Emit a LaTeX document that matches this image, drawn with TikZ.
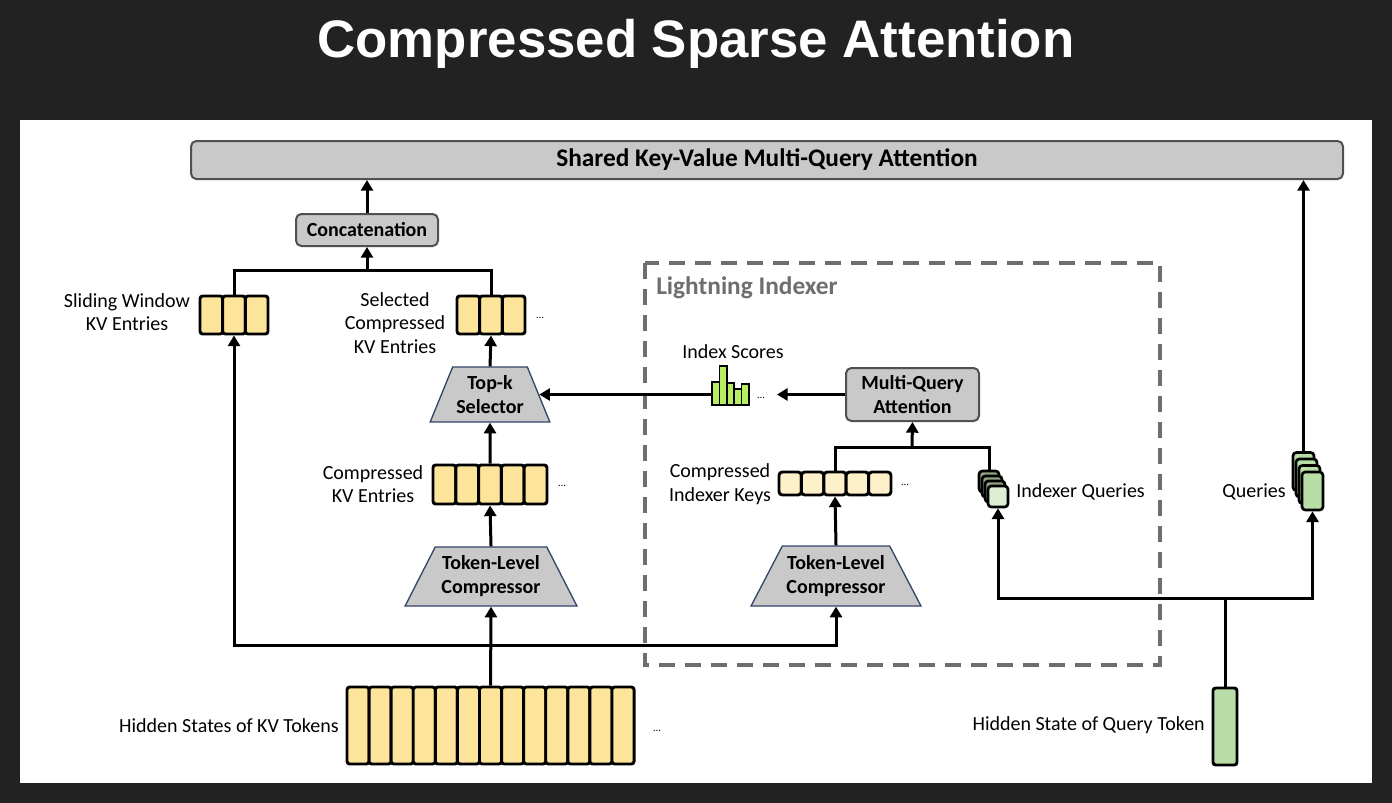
\documentclass[tikz,border=0pt]{standalone}
\usepackage{fontspec}
\setmainfont{Carlito}
\newfontfamily\titlefont{Liberation Sans}
\usetikzlibrary{shapes.geometric,arrows.meta}

\definecolor{bgdark}{HTML}{222222}
\definecolor{boxgray}{HTML}{C9C9C9}
\definecolor{boxedge}{HTML}{505050}
\definecolor{trapedge}{HTML}{34466A}
\definecolor{kvyellow}{HTML}{FDE49B}
\definecolor{keylight}{HTML}{FEF1C9}
\definecolor{qgreen}{HTML}{B9DDA6}
\definecolor{iqgreen}{HTML}{DCEFD3}
\definecolor{iqdark}{HTML}{8FA283}
\definecolor{scoregreen}{HTML}{B8EE62}
\definecolor{dashgray}{HTML}{6E6E6E}

\begin{document}
\begin{tikzpicture}[x=0.75pt, y=-0.75pt, >={Triangle[length=8pt,width=9pt]},
    lbl/.style={font=\fontsize{15}{17.6}\selectfont, align=center, inner sep=0},
    graybox/.style={draw=boxedge, fill=boxgray, line width=1.5pt, rounded corners=4pt,
      font=\bfseries\fontsize{15}{17.6}\selectfont, align=center, inner sep=0},
    trap/.style={trapezium, trapezium stretches=true, draw=trapedge, fill=boxgray, line width=1pt,
      font=\bfseries\fontsize{15}{18}\selectfont, align=center, inner sep=0},
    cell/.style={draw=black, line width=2.2pt, rounded corners=2pt, fill=kvyellow, inner sep=0},
    qcell/.style={draw=black, line width=2pt, rounded corners=2.5pt, inner sep=0},
    wire/.style={line width=2.25pt},
    dots/.style={font=\fontsize{8}{8}\selectfont, inner sep=0}]

  % frame
  \fill[bgdark] (0,0) rectangle (1392,803);
  \useasboundingbox (0,0) rectangle (1392,803);
  \fill[white] (20,120) rectangle (1372,783);
  \node[font=\titlefont\bfseries\fontsize{39.6}{44}\selectfont, text=white] (title) at (696,44) {Compressed Sparse Attention};

  % lightning indexer region
  \draw[dashgray, line width=2.6pt, dash pattern=on 12pt off 7.5pt] (645,263) rectangle (1160,665);
  \node[anchor=west, text=dashgray, font=\bfseries\fontsize{19}{22}\selectfont, inner sep=0] (lilbl) at (656,288) {Lightning Indexer};

  % boxes
  \node[graybox, minimum width=864pt, minimum height=28.5pt, font=\bfseries\fontsize{19}{22}\selectfont] (shared) at (767,160) {Shared Key-Value Multi-Query Attention};
  \node[graybox, minimum width=106.5pt, minimum height=24pt] (concat) at (367,230) {Concatenation};
  \node[graybox, minimum width=99.75pt, minimum height=39.75pt] (mqa) at (912.5,394.5) {Multi-Query\\Attention};
  \node[trap, minimum width=90pt, minimum height=41.25pt, trapezium angle=62] (topk) at (490,394.5) {Top-k\\Selector};
  \node[trap, minimum width=129pt, minimum height=44.25pt, trapezium angle=57] (lcomp) at (491,576.5) {Token-Level\\Compressor};
  \node[trap, minimum width=127.5pt, minimum height=45pt, trapezium angle=55] (rcomp) at (836,576) {Token-Level\\Compressor};

  % kv cells
  \foreach \i in {1,...,3} {
    \node[cell, minimum width=17pt, minimum height=28.5pt] (swkv\i) at (200+\i*22.67-11.33,315) {};
    \node[cell, minimum width=17pt, minimum height=28.5pt] (selkv\i) at (457+\i*22.67-11.33,315) {};
  }
  \foreach \i in {1,...,5} {
    \node[cell, minimum width=17.1pt, minimum height=29.25pt] (ckv\i) at (433+\i*22.8-11.4,484.5) {};
    \node[cell, fill=keylight, rounded corners=2.5pt, minimum width=16.8pt, minimum height=17.25pt] (ikey\i) at (779+\i*22.4-11.2,483.5) {};
  }
  \foreach \i in {1,...,13}
    \node[cell, minimum width=16.56pt, minimum height=57.75pt] (hkv\i) at (347+\i*22.08-11.04,725.5) {};
  \node[cell, fill=qgreen, minimum width=18pt, minimum height=57.75pt] (hq) at (1225,726.5) {};

  % query stacks
  \foreach \i in {3,2,1} {
    \node[qcell, fill=iqdark, minimum width=15pt, minimum height=15.75pt] (iq\i) at (998-\i*3,496.5-\i*5) {};
    \node[qcell, fill=qgreen, minimum width=15.75pt, minimum height=28.5pt] (q\i) at (1312.5-\i*3,491-\i*6.5) {};
  }
  \node[qcell, fill=iqgreen, minimum width=15pt, minimum height=15.75pt] (iq0) at (998,496.5) {};
  \node[qcell, fill=qgreen, minimum width=15.75pt, minimum height=28.5pt] (q0) at (1312.5,491) {};

  % index scores
  \foreach \x/\t in {0/382,1/366,2/383,3/389,4/384}
    \draw[fill=scoregreen, line width=1.1pt] (712+\x*7.4,405) rectangle (719.4+\x*7.4,\t);
  \node[inner sep=0, minimum width=27.75pt, minimum height=29.25pt] (scores) at (730.5,385.5) {};

  % labels
  \node[lbl] (swlbl) at (127,312) {Sliding Window\\KV Entries};
  \node[lbl] (sellbl) at (395,323) {Selected\\Compressed\\KV Entries};
  \node[lbl] (ckvlbl) at (373,484) {Compressed\\KV Entries};
  \node[lbl] (ikeylbl) at (720,484) {Compressed\\Indexer Keys};
  \node[lbl, anchor=west] (iqlbl) at (1016,492) {Indexer Queries};
  \node[lbl, anchor=east] (qlbl) at (1286,492) {Queries};
  \node[lbl] (scorelbl) at (733,352) {Index Scores};
  \node[lbl, anchor=east] (hkvlbl) at (339,726) {Hidden States of KV Tokens};
  \node[lbl, anchor=east] (hqlbl) at (1205,725) {Hidden State of Query Token};
  \node[dots] (seldots) at (540,318) {\ldots};
  \node[dots] (ckvdots) at (562,486) {\ldots};
  \node[dots] (hkvdots) at (657,731) {\ldots};
  \node[dots] (ikeydots) at (905,485) {\ldots};
  \node[dots] (sdots) at (761,398) {\ldots};

  % connectors
  \coordinate (cjoin) at (367,270);
  \coordinate (kvsplit) at (490.5,645);
  \coordinate (mqjoin) at (912,447);
  \coordinate (qsplit) at (1225,598);
  \draw[wire] (swkv2.north) |- (cjoin) -| (selkv2.north);
  \draw[wire,->] (cjoin) -- (concat.south);
  \draw[wire,->] (concat.north) -- (concat.north |- shared.south);
  \draw[wire,->] (topk.north) -- (selkv2.south);
  \draw[wire,->] (ckv3.north) -- (topk.south);
  \draw[wire,->] (lcomp.north) -- (ckv3.south);
  \draw[wire,->] (hkv7.north) -- (lcomp.south);
  \draw[wire,->] (kvsplit) -| (swkv2.south);
  \draw[wire,->] (kvsplit) -| (rcomp.south);
  \draw[wire,->] (rcomp.north) -- (ikey3.south);
  \draw[wire] (ikey3.north) |- (mqjoin) -| (iq3.north);
  \draw[wire,->] (mqjoin) -- (mqa.south);
  \draw[wire,->,shorten >=9pt] (mqa.west) -- (mqa.west -| sdots.east);
  \draw[wire,->] (topk.east -| scores.west) -- (topk.east);
  \draw[wire] (hq.north) -- (qsplit);
  \draw[wire,->] (qsplit) -| (iq0.south);
  \draw[wire,->] (qsplit) -| (q0.south);
  \draw[wire,->] (q3.north) -- (q3.north |- shared.south);
\end{tikzpicture}
\end{document}
